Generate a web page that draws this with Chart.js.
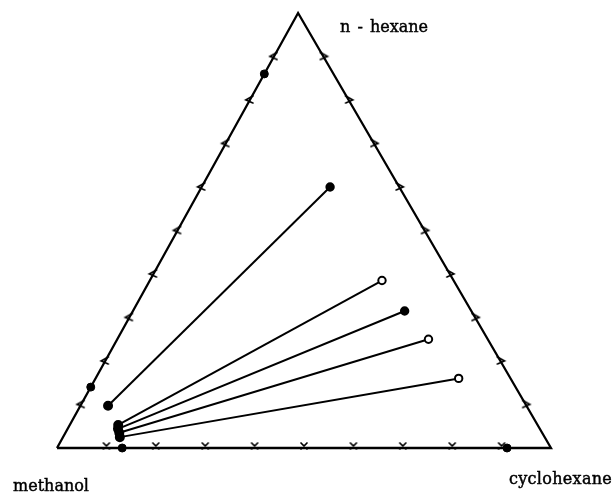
<!DOCTYPE html>
<html>
<head>
<meta charset="utf-8">
<script src="https://cdn.jsdelivr.net/npm/chart.js@4"></script>
<style>
  html, body { margin: 0; padding: 0; background: #fff; }
  #wrap { position: relative; width: 615px; height: 495px; background: #fff; }
  canvas { position: absolute; left: 0; top: 0; }
  .lbl { position: absolute; font-family: "DejaVu Serif", serif; font-size: 16px; line-height: 16px; color: #000; white-space: nowrap; -webkit-text-stroke: 0.45px #000; }
</style>
</head>
<body>
<div id="wrap">
  <canvas id="c" width="615" height="495"></canvas>
  <div class="lbl" id="lblHex" style="left:340px; top:19px; word-spacing:2px;">n - hexane</div>
  <div class="lbl" id="lblMeth" style="left:13px; top:478px;">methanol</div>
  <div class="lbl" id="lblCyc" style="left:509px; top:471px; letter-spacing:0.3px;">cyclohexane</div>
</div>
<script>
// Component names (vertices)
const components = ['methanol', 'cyclohexane', 'n - hexane'];

// Tie lines: methanol-rich phase (mole fractions of cyclohexane and n-hexane)
const methanolRichCyclohexane = [0.056, 0.098, 0.102, 0.109, 0.115];
const methanolRichHexane      = [0.097, 0.053, 0.044, 0.035, 0.025];
// Tie lines: hydrocarbon-rich phase
const hydrocarbonRichCyclohexane = [0.26, 0.47, 0.55, 0.63, 0.735];
const hydrocarbonRichHexane      = [0.60, 0.385, 0.315, 0.25, 0.16];
const hydrocarbonRichOpen        = [false, true, false, true, true];

// Binary methanol + n-hexane points (on left side)
const binaryHexaneCyclohexane = [0, 0];
const binaryHexaneHexane      = [0.86, 0.14];
// Binary methanol + cyclohexane points (on base)
const binaryCycloCyclohexane = [0.132, 0.911];
const binaryCycloHexane      = [0, 0];

// Tick fractions along each side
const tickFractions = [0.1, 0.2, 0.3, 0.4, 0.5, 0.6, 0.7, 0.8, 0.9];

// ternary -> cartesian (apex horizontal offset of the scanned triangle)
const APEX_X = 0.488;
function xy(c, h) { return { x: c + APEX_X * h, y: h }; }

function makeTick(kind) {
  const cv = document.createElement('canvas');
  cv.width = 14; cv.height = 14;
  const g = cv.getContext('2d');
  g.strokeStyle = '#000'; g.lineWidth = 1.7; g.lineCap = 'round';
  g.beginPath();
  if (kind === 'left') {
    g.moveTo(10, 3); g.lineTo(3, 7); g.lineTo(10, 10);
  } else if (kind === 'right') {
    g.moveTo(4, 3); g.lineTo(11, 7); g.lineTo(4, 10);
  } else {
    g.moveTo(4, 2); g.lineTo(10, 8);
    g.moveTo(10, 2); g.lineTo(4, 8);
  }
  g.stroke();
  return cv;
}

const datasets = [];

// Triangle frame
datasets.push({
  data: [xy(0, 0), xy(1, 0), xy(0, 1), xy(0, 0)],
  showLine: true, borderColor: '#000', borderWidth: 2.3, pointRadius: 0,
  fill: false, tension: 0, clip: false
});

// Tie lines
for (let i = 0; i < methanolRichCyclohexane.length; i++) {
  datasets.push({
    data: [xy(methanolRichCyclohexane[i], methanolRichHexane[i]),
           xy(hydrocarbonRichCyclohexane[i], hydrocarbonRichHexane[i])],
    showLine: true, borderColor: '#000', borderWidth: 2, tension: 0,
    pointRadius: [4, 3.7],
    pointBackgroundColor: ['#000', hydrocarbonRichOpen[i] ? '#fff' : '#000'],
    pointBorderColor: '#000', pointBorderWidth: 2, clip: false
  });
}

// Binary points
const binaryPts = [];
for (let i = 0; i < binaryHexaneHexane.length; i++) binaryPts.push(xy(binaryHexaneCyclohexane[i], binaryHexaneHexane[i]));
for (let i = 0; i < binaryCycloCyclohexane.length; i++) binaryPts.push(xy(binaryCycloCyclohexane[i], binaryCycloHexane[i]));
datasets.push({
  data: binaryPts, showLine: false, pointRadius: 4,
  pointBackgroundColor: '#000', pointBorderColor: '#000', pointBorderWidth: 1, clip: false
});

// Tick marks
datasets.push({ data: tickFractions.map(f => xy(0, f)), showLine: false, pointStyle: makeTick('left'), clip: false });
datasets.push({ data: tickFractions.map(f => xy(1 - f, f)), showLine: false, pointStyle: makeTick('right'), clip: false });
datasets.push({ data: tickFractions.map(f => xy(f, 0)), showLine: false, pointStyle: makeTick('bottom'), clip: false });

new Chart(document.getElementById('c'), {
  type: 'scatter',
  data: { datasets },
  options: {
    responsive: false, animation: false, devicePixelRatio: 1,
    layout: { padding: { left: 57, right: 64, top: 13, bottom: 47 } },
    plugins: { legend: { display: false }, tooltip: { enabled: false }, title: { display: false } },
    scales: {
      x: { type: 'linear', min: 0, max: 1, display: false },
      y: { type: 'linear', min: 0, max: 1, display: false }
    }
  }
});
</script>
</body>
</html>
